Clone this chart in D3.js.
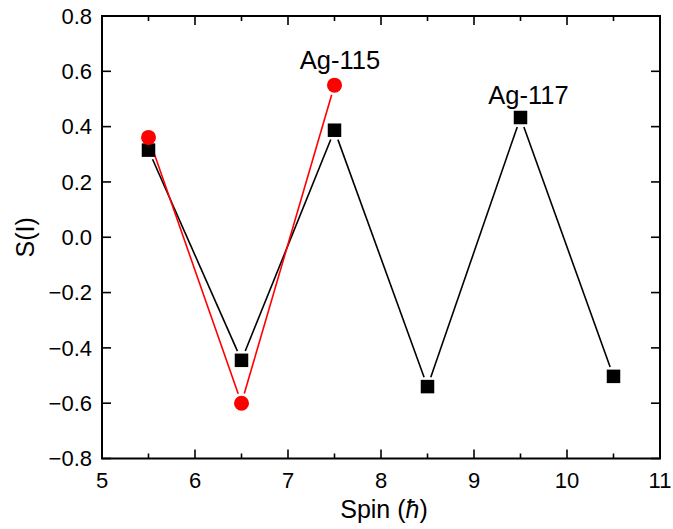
<!DOCTYPE html>
<html><head><meta charset="utf-8">
<script src="https://cdn.jsdelivr.net/npm/d3@7"></script>
<style>body{margin:0;background:#fff}svg{display:block}text{font-family:"Liberation Sans",Arial,sans-serif}</style>
</head><body><svg id="c" width="673" height="529"></svg>
<script>
const spinAg117 = [5.5, 6.5, 7.5, 8.5, 9.5, 10.5];
const sAg117 = [0.315, -0.445, 0.387, -0.54, 0.433, -0.503];
const spinAg115 = [5.5, 6.5, 7.5];
const sAg115 = [0.361, -0.600, 0.550];
const xTicks = [5, 6, 7, 8, 9, 10, 11];
const yTicks = [-0.8, -0.6, -0.4, -0.2, 0.0, 0.2, 0.4, 0.6, 0.8];
const labels = [{t: "Ag-115", x: 7.5, y: 0.55}, {t: "Ag-117", x: 9.5, y: 0.433}];

const svg = d3.select("#c");
const L = 102, R = 660, T = 16, B = 458.5;
const x = d3.scaleLinear().domain([5, 11]).range([L, R]);
const y = d3.scaleLinear().domain([-0.8, 0.8]).range([B, T]);

// frame
svg.append("rect").attr("x", L).attr("y", T).attr("width", R - L).attr("height", B - T)
  .attr("fill", "none").attr("stroke", "#000").attr("stroke-width", 2);

// ticks
const minorX = d3.range(5.5, 11, 1);
const g = svg.append("g").attr("stroke", "#000").attr("stroke-width", 1.6);
xTicks.forEach(v => {
  g.append("line").attr("x1", x(v)).attr("x2", x(v)).attr("y1", B).attr("y2", B - 9);
  g.append("line").attr("x1", x(v)).attr("x2", x(v)).attr("y1", T).attr("y2", T + 9);
});
minorX.forEach(v => {
  g.append("line").attr("x1", x(v)).attr("x2", x(v)).attr("y1", B).attr("y2", B - 5);
  g.append("line").attr("x1", x(v)).attr("x2", x(v)).attr("y1", T).attr("y2", T + 5);
});
yTicks.forEach(v => {
  g.append("line").attr("x1", L).attr("x2", L + 9).attr("y1", y(v)).attr("y2", y(v));
  g.append("line").attr("x1", R).attr("x2", R - 9).attr("y1", y(v)).attr("y2", y(v));
});

// tick labels
svg.append("g").selectAll("text").data(xTicks).join("text")
  .attr("x", d => x(d)).attr("y", B + 29).attr("text-anchor", "middle")
  .attr("font-size", 22).text(d => d3.format("d")(d));
svg.append("g").selectAll("text").data(yTicks).join("text")
  .attr("x", L - 10).attr("y", d => y(d) + 7.8).attr("text-anchor", "end")
  .attr("font-size", 22).text(d => d3.format(".1f")(d));

// axis titles
const xt = svg.append("text").attr("x", 384).attr("y", 518).attr("text-anchor", "middle").attr("font-size", 25);
xt.append("tspan").text("Spin (");
xt.append("tspan").attr("font-style", "italic").text("ħ");
xt.append("tspan").text(")");
svg.append("text").attr("transform", `translate(34,${(T + B) / 2}) rotate(-90)`)
  .attr("text-anchor", "middle").attr("font-size", 25).text("S(I)");

// lines with gaps near markers
function gapLine(xs, ys, color, gap) {
  const pts = xs.map((v, i) => [x(v), y(ys[i])]);
  for (let i = 0; i < pts.length - 1; i++) {
    const [x1, y1] = pts[i], [x2, y2] = pts[i + 1];
    const dx = x2 - x1, dy = y2 - y1, len = Math.hypot(dx, dy);
    const ux = dx / len, uy = dy / len;
    svg.append("line")
      .attr("x1", x1 + ux * gap).attr("y1", y1 + uy * gap)
      .attr("x2", x2 - ux * gap).attr("y2", y2 - uy * gap)
      .attr("stroke", color).attr("stroke-width", 1.6);
  }
}
gapLine(spinAg117, sAg117, "#000", 10);
gapLine(spinAg115, sAg115, "#f00", 10);

// markers
const sq = 13.5;
svg.append("g").selectAll("rect").data(spinAg117.map((v, i) => [v, sAg117[i]])).join("rect")
  .attr("x", d => x(d[0]) - sq / 2).attr("y", d => y(d[1]) - sq / 2)
  .attr("width", sq).attr("height", sq).attr("fill", "#000");
svg.append("g").selectAll("circle").data(spinAg115.map((v, i) => [v, sAg115[i]])).join("circle")
  .attr("cx", d => x(d[0])).attr("cy", d => y(d[1])).attr("r", 7.5).attr("fill", "#f00");

// annotations
svg.append("g").selectAll("text").data(labels).join("text")
  .attr("x", d => x(d.x) + (d.t === "Ag-115" ? 5.5 : 8))
  .attr("y", d => y(d.y) - (d.t === "Ag-115" ? 16 : 13.5))
  .attr("text-anchor", "middle").attr("font-size", 25.5).text(d => d.t);
</script></body></html>
